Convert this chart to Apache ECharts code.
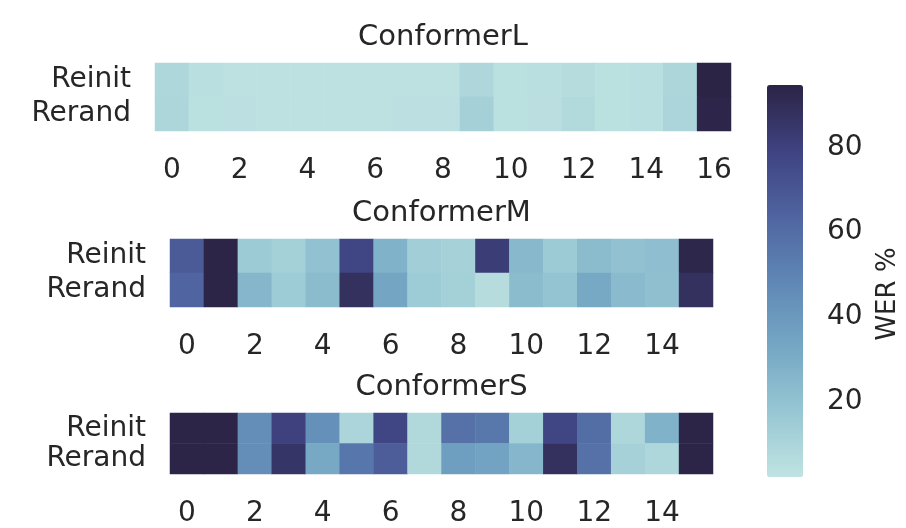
<!DOCTYPE html>
<html>
<head>
<meta charset="utf-8">
<script src="https://cdn.jsdelivr.net/npm/echarts@6/dist/echarts.min.js"></script>
<style>
  html, body { margin: 0; padding: 0; background: #ffffff; }
  #chart { width: 906px; height: 528px; }
</style>
</head>
<body>
<div id="chart"></div>
<script>
// Layer indices and row names
const layersL = ['0','1','2','3','4','5','6','7','8','9','10','11','12','13','14','15','16'];
const layersMS = ['0','1','2','3','4','5','6','7','8','9','10','11','12','13','14','15'];
const rows = ['Reinit', 'Rerand'];
const titles = ['ConformerL', 'ConformerM', 'ConformerS'];

// WER % per layer
const lReinit = [9.0, 4.6, 3.6, 3.4, 3.5, 3.4, 3.6, 3.5, 3.6, 9.2, 4.0, 4.4, 6.0, 4.2, 4.6, 9.5, 94.7];
const lRerand = [9.5, 4.2, 3.7, 3.5, 3.6, 3.5, 3.6, 3.7, 3.8, 12.5, 4.1, 4.3, 7.5, 4.1, 4.5, 9.8, 93.5];
const mReinit = [68, 94, 16, 13, 20, 78, 28, 14, 12, 82, 25, 16, 23, 20, 22, 93];
const mRerand = [64, 94, 26, 15, 23, 88, 34, 15, 13, 6, 23, 19, 32, 24, 21, 88];
const sReinit = [94, 94, 45, 80, 44, 10, 78, 8, 58, 55, 13, 78, 60, 9, 28, 94];
const sRerand = [94, 94, 45, 86, 32, 56, 67, 8, 37, 35, 26, 88, 58, 12, 9, 94];

// Colour bar range and ticks
const werMin = 2.3, werMax = 94.7;
const cbarTicks = [20, 40, 60, 80];
const ramp = ['#c0e3e2', '#97c7d3', '#75a7c4', '#5f87b5', '#4f64a0', '#3f4281', '#2b2445'];

const FONT = 'DejaVu Sans';
const TXT = '#262626';
const FS = 28;

function cells(reinit, rerand) {
  const out = [];
  reinit.forEach((v, i) => out.push([i, 0, v]));
  rerand.forEach((v, i) => out.push([i, 1, v]));
  return out;
}

const grids = [
  { left: 155, top: 63, width: 576, height: 68 },
  { left: 170, top: 239, width: 543, height: 68 },
  { left: 170, top: 413, width: 543, height: 68 },
  { left: 767, top: 85, width: 36, height: 392 }
];
const cats = [layersL, layersMS, layersMS];

const xAxes = cats.map((c, i) => ({
  type: 'category', gridIndex: i, data: c, position: 'bottom',
  axisLine: { show: false }, axisTick: { show: false }, splitLine: { show: false },
  axisLabel: { interval: 1, margin: 26, fontFamily: FONT, fontSize: FS, color: TXT }
}));
xAxes.push({ type: 'value', gridIndex: 3, show: false, min: 0, max: 1 });

const yAxes = cats.map((c, i) => ({
  type: 'category', gridIndex: i, data: rows, inverse: true,
  axisLine: { show: false }, axisTick: { show: false }, splitLine: { show: false },
  axisLabel: { interval: 0, margin: 24, fontFamily: FONT, fontSize: FS, color: TXT }
}));
yAxes.push({
  type: 'value', gridIndex: 3, position: 'right', min: werMin, max: werMax,
  splitLine: { show: false },
  axisLine: { show: false },
  axisTick: { show: true, length: 14, customValues: cbarTicks, lineStyle: { color: TXT, width: 2 } },
  axisLabel: { margin: 24, customValues: cbarTicks, fontFamily: FONT, fontSize: FS, color: TXT },
  name: 'WER %', nameLocation: 'middle', nameRotate: 90, nameGap: 72,
  nameTextStyle: { fontFamily: FONT, fontSize: 26, color: TXT, padding: [0, 26, 0, 0] }
});

const seriesData = [cells(lReinit, lRerand), cells(mReinit, mRerand), cells(sReinit, sRerand)];

const option = {
  backgroundColor: '#ffffff',
  animation: false,
  title: titles.map((t, i) => ({
    text: t,
    left: grids[i].left + grids[i].width / 2,
    top: grids[i].top - 40,
    textAlign: 'center',
    padding: 0,
    textStyle: { fontFamily: FONT, fontSize: FS + 1, fontWeight: 'normal', color: TXT }
  })),
  grid: grids,
  xAxis: xAxes,
  yAxis: yAxes,
  visualMap: {
    type: 'continuous',
    min: werMin, max: werMax,
    seriesIndex: [0, 1, 2],
    orient: 'vertical',
    calculable: false,
    left: 767, top: 85,
    padding: 0,
    itemWidth: 36, itemHeight: 392,
    text: null,
    showLabel: false,
    inRange: { color: ramp }
  },
  series: seriesData.map((d, i) => ({
    type: 'heatmap',
    xAxisIndex: i, yAxisIndex: i,
    data: d,
    itemStyle: { borderWidth: 0 },
    emphasis: { disabled: true }
  }))
};

const chart = echarts.init(document.getElementById('chart'), null, { renderer: 'canvas' });
chart.setOption(option);
</script>
</body>
</html>
